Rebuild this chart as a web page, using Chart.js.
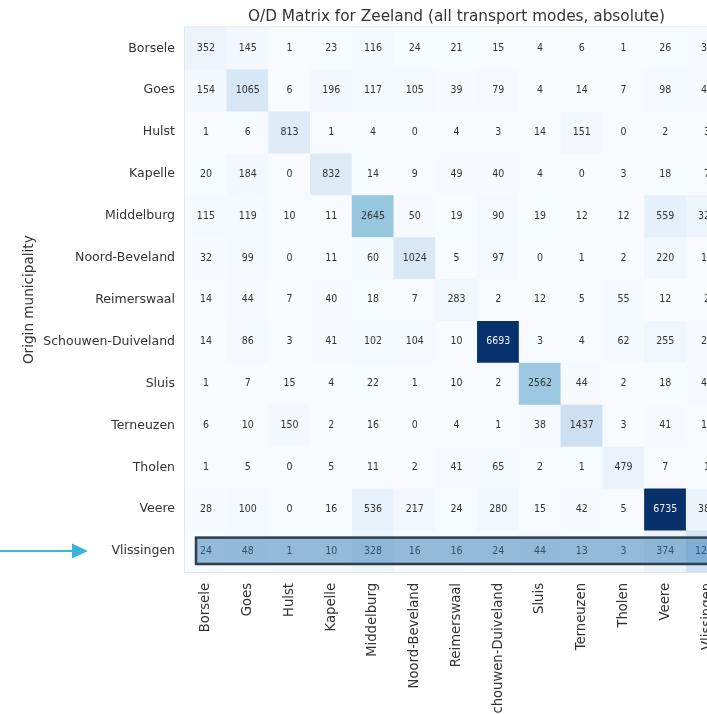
<!DOCTYPE html>
<html>
<head>
<meta charset="utf-8">
<title>O/D Matrix for Zeeland</title>
<script src="https://cdn.jsdelivr.net/npm/chart.js@4"></script>
<style>
    html, body { margin: 0; padding: 0; background: #ffffff; overflow: hidden; }
    #wrap { width: 760px; height: 714px; }
</style>
</head>
<body>
<div id="wrap"><canvas id="odChart" width="760" height="714"></canvas></div>
<script>
// Municipalities (same order for origins and destinations)
const destinations = ['Borsele', 'Goes', 'Hulst', 'Kapelle', 'Middelburg', 'Noord-Beveland',
    'Reimerswaal', 'Schouwen-Duiveland', 'Sluis', 'Terneuzen', 'Tholen', 'Veere', 'Vlissingen'];
const origins = destinations.slice();

// Trips per origin row (last column is cut off in the source, estimated)
const fromBorsele      = [352, 145, 1, 23, 116, 24, 21, 15, 4, 6, 1, 26, 38];
const fromGoes         = [154, 1065, 6, 196, 117, 105, 39, 79, 4, 14, 7, 98, 45];
const fromHulst        = [1, 6, 813, 1, 4, 0, 4, 3, 14, 151, 0, 2, 3];
const fromKapelle      = [20, 184, 0, 832, 14, 9, 49, 40, 4, 0, 3, 18, 7];
const fromMiddelburg   = [115, 119, 10, 11, 2645, 50, 19, 90, 19, 12, 12, 559, 324];
const fromNoordBev     = [32, 99, 0, 11, 60, 1024, 5, 97, 0, 1, 2, 220, 15];
const fromReimerswaal  = [14, 44, 7, 40, 18, 7, 283, 2, 12, 5, 55, 12, 2];
const fromSchouwen     = [14, 86, 3, 41, 102, 104, 10, 6693, 3, 4, 62, 255, 27];
const fromSluis        = [1, 7, 15, 4, 22, 1, 10, 2, 2562, 44, 2, 18, 45];
const fromTerneuzen    = [6, 10, 150, 2, 16, 0, 4, 1, 38, 1437, 3, 41, 13];
const fromTholen       = [1, 5, 0, 5, 11, 2, 41, 65, 2, 1, 479, 7, 1];
const fromVeere        = [28, 100, 0, 16, 536, 217, 24, 280, 15, 42, 5, 6735, 385];
const fromVlissingen   = [24, 48, 1, 10, 328, 16, 16, 24, 44, 13, 3, 374, 1265];

const matrix = [fromBorsele, fromGoes, fromHulst, fromKapelle, fromMiddelburg, fromNoordBev,
    fromReimerswaal, fromSchouwen, fromSluis, fromTerneuzen, fromTholen, fromVeere, fromVlissingen];

const highlightRow = 12; // Vlissingen

// matplotlib "Blues" colormap stops
const bluesStops = ['#f7fbff', '#deebf7', '#c6dbef', '#9ecae1', '#6baed6',
    '#4292c6', '#2171b5', '#08519c', '#08306b'];

function hexToRgb(h) {
    return [parseInt(h.slice(1, 3), 16), parseInt(h.slice(3, 5), 16), parseInt(h.slice(5, 7), 16)];
}

function blues(t) {
    t = Math.max(0, Math.min(1, t));
    const pos = t * (bluesStops.length - 1);
    const i = Math.min(Math.floor(pos), bluesStops.length - 2);
    const f = pos - i;
    const a = hexToRgb(bluesStops[i]);
    const b = hexToRgb(bluesStops[i + 1]);
    const c = a.map((v, k) => Math.round(v + (b[k] - v) * f));
    return 'rgb(' + c.join(',') + ')';
}

const vmax = Math.max(...matrix.map(r => Math.max(...r)));

// one floating-bar dataset per origin row
const datasets = origins.map((name, i) => ({
    label: name,
    data: destinations.map(() => [i, i + 1]),
    backgroundColor: matrix[i].map(v => blues(v / vmax)),
    borderWidth: 0,
    barPercentage: 1,
    categoryPercentage: 1,
    grouped: false
}));

// cell numbers, frame and highlighted row
const cellLabels = {
    id: 'cellLabels',
    afterDatasetsDraw(chart) {
        const ctx = chart.ctx;
        const xs = chart.scales.x;
        const ys = chart.scales.y;
        const area = chart.chartArea;
        ctx.save();

        ctx.font = '10.5px "DejaVu Sans Condensed", "DejaVu Sans", sans-serif';
        ctx.textAlign = 'center';
        ctx.textBaseline = 'middle';
        matrix.forEach((row, i) => {
            row.forEach((v, j) => {
                ctx.fillStyle = v / vmax > 0.6 ? '#f0f4fa' : '#333333';
                ctx.fillText(String(v), xs.getPixelForValue(j), ys.getPixelForValue(i + 0.5));
            });
        });

        // light frame round the matrix
        ctx.strokeStyle = '#e3e7eb';
        ctx.lineWidth = 1;
        ctx.strokeRect(area.left - 0.5, area.top - 0.5, area.right - area.left + 1, area.bottom - area.top + 1);

        // highlight box on the Vlissingen row
        const rowTop = ys.getPixelForValue(highlightRow);
        const rowBot = ys.getPixelForValue(highlightRow + 1);
        const bx = area.left + 11;
        const by = rowTop + 7.5;
        const bw = area.right - 12 - bx;
        const bh = (rowBot - 8) - by;
        ctx.fillStyle = 'rgba(40, 115, 175, 0.48)';
        ctx.fillRect(bx, by, bw, bh);
        ctx.strokeStyle = '#2f3e4d';
        ctx.lineWidth = 2.5;
        ctx.strokeRect(bx, by, bw, bh);

        // arrow pointing at the row label
        const ay = ys.getPixelForValue(highlightRow + 0.5);
        ctx.strokeStyle = '#3bb4d8';
        ctx.fillStyle = '#3bb4d8';
        ctx.lineWidth = 2;
        ctx.beginPath();
        ctx.moveTo(0, ay);
        ctx.lineTo(74, ay);
        ctx.stroke();
        ctx.beginPath();
        ctx.moveTo(88, ay);
        ctx.lineTo(72, ay - 7.5);
        ctx.lineTo(72, ay + 7.5);
        ctx.closePath();
        ctx.fill();

        ctx.restore();
    }
};

new Chart(document.getElementById('odChart'), {
    type: 'bar',
    data: {
        labels: destinations,
        datasets: datasets
    },
    plugins: [cellLabels],
    options: {
        responsive: false,
        animation: false,
        layout: {
            padding: { left: 0, right: 32, top: 0, bottom: 0 }
        },
        plugins: {
            legend: { display: false },
            tooltip: { enabled: false },
            title: {
                display: true,
                fullSize: false,
                text: 'O/D Matrix for Zeeland (all transport modes, absolute)',
                color: '#333333',
                font: { family: 'DejaVu Sans', size: 15.3, weight: 'normal' },
                padding: { top: 8, bottom: 1 }
            }
        },
        scales: {
            x: {
                type: 'category',
                offset: true,
                grid: { display: false, drawTicks: false },
                border: { display: false },
                ticks: {
                    autoSkip: false,
                    minRotation: 90,
                    maxRotation: 90,
                    padding: 11,
                    color: '#333333',
                    font: { family: 'DejaVu Sans', size: 13.2 }
                },
                afterFit(scale) {
                    scale.height = 142;
                }
            },
            y: {
                type: 'linear',
                min: 0,
                max: 13,
                reverse: true,
                grid: { display: false, drawTicks: false },
                border: { display: false },
                title: {
                    display: true,
                    text: 'Origin municipality',
                    color: '#333333',
                    font: { family: 'DejaVu Sans', size: 13.6 },
                    padding: { top: 21, bottom: 4 }
                },
                afterBuildTicks(scale) {
                    scale.ticks = origins.map((_, i) => ({ value: i + 0.5 }));
                },
                ticks: {
                    autoSkip: false,
                    padding: 10,
                    color: '#333333',
                    font: { family: 'DejaVu Sans', size: 12.5 },
                    callback: function(value) {
                        return origins[Math.floor(value)];
                    }
                },
                afterFit(scale) {
                    scale.width = 185;
                }
            }
        }
    }
});
</script>
</body>
</html>
